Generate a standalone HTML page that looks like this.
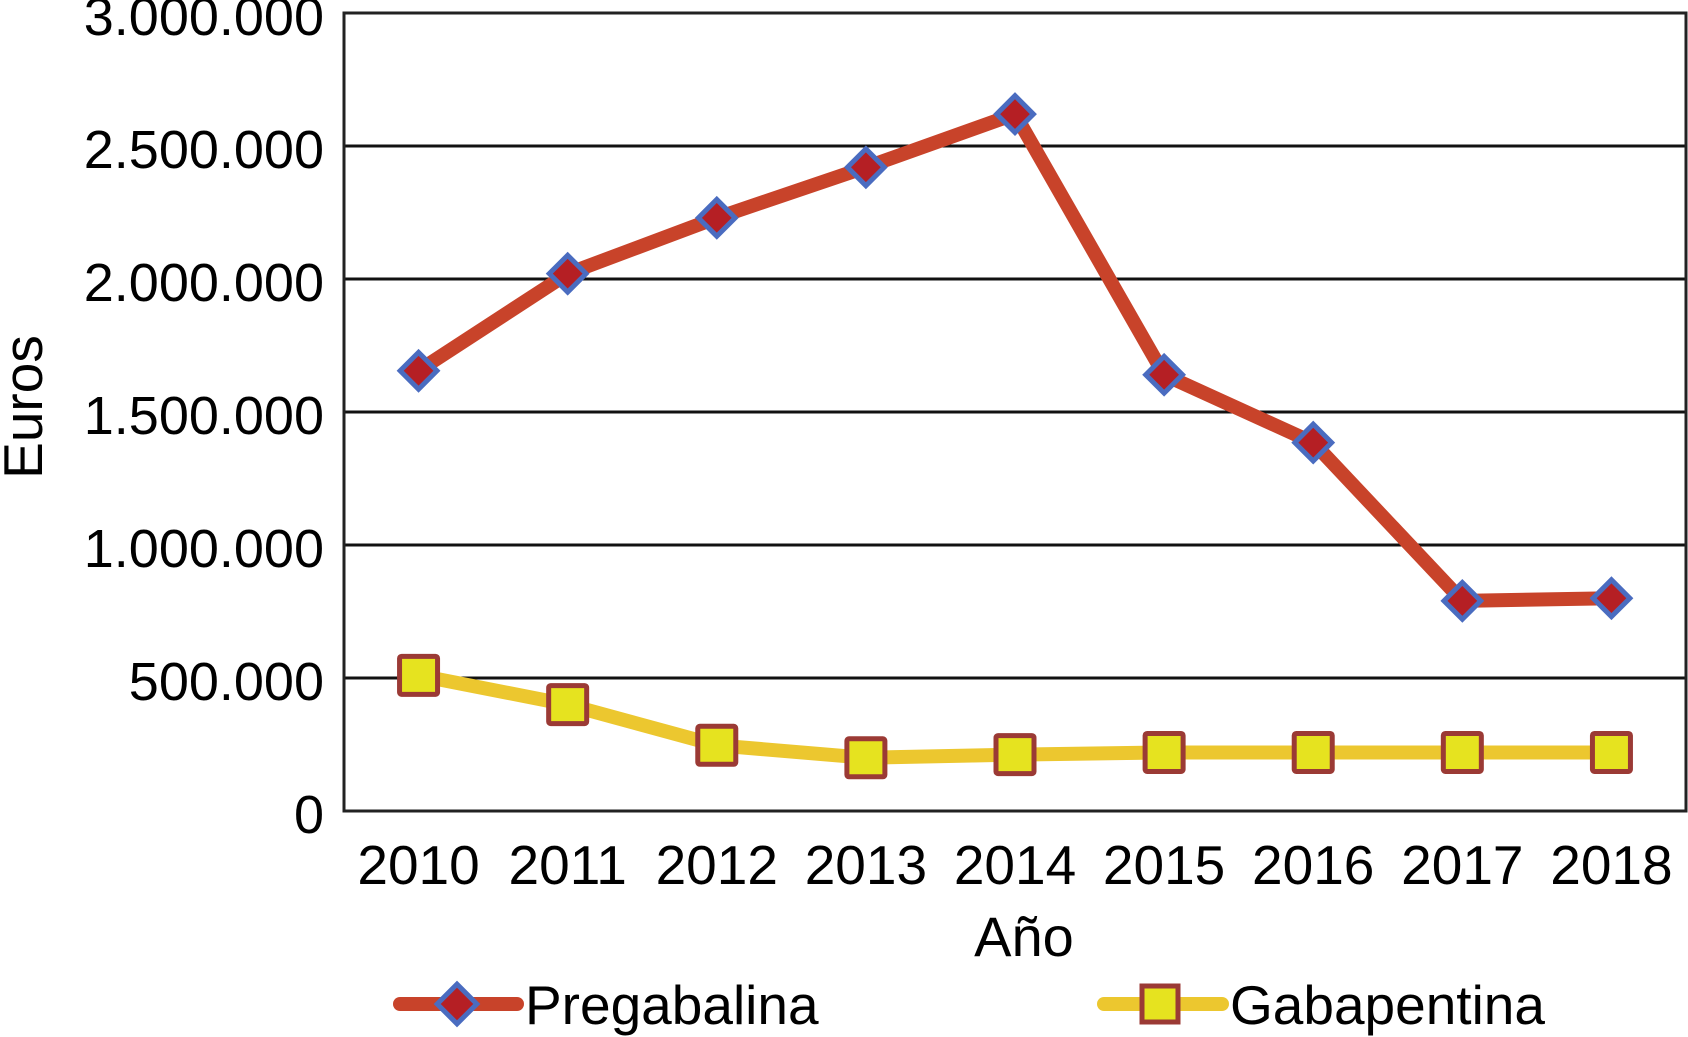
<!DOCTYPE html>
<html><head><meta charset="utf-8"><style>
html,body{margin:0;padding:0;background:#fff;}
svg{display:block;font-family:"Liberation Sans",Arial,sans-serif;}
</style></head><body>
<svg id="chart" width="1688" height="1037" viewBox="0 0 1688 1037">
<g id="grid"></g>
<g id="yticks"></g>
<g id="xticks"></g>
<g id="series"></g>
<rect x="344" y="13" width="1342" height="798" fill="none" stroke="#222" stroke-width="3"/>
<text x="1024" y="956" font-size="56" text-anchor="middle">Año</text>
<text transform="translate(42,407) rotate(-90)" font-size="55" text-anchor="middle">Euros</text>
<g>
<g>
<line x1="400" y1="1004" x2="517" y2="1004" stroke="#c8432a" stroke-width="14" stroke-linecap="round"/>
<rect x="443" y="990" width="28" height="28" fill="#b51f24" stroke="#4a6cc0" stroke-width="5" transform="rotate(45 457 1004)"/>
<text x="525" y="1024" font-size="55">Pregabalina</text>
</g>
<g>
<line x1="1104" y1="1004" x2="1222" y2="1004" stroke="#ecc72f" stroke-width="14" stroke-linecap="round"/>
<rect x="1142" y="986" width="36" height="36" fill="#e6e31f" stroke="#9b3a35" stroke-width="5"/>
<text x="1230" y="1024" font-size="55">Gabapentina</text>
</g>
</g>
</svg>
<script>
const categories = ["2010","2011","2012","2013","2014","2015","2016","2017","2018"];
const pregabalina = [1655000,2020000,2230000,2420000,2620000,1640000,1385000,790000,800000];
const gabapentina = [510000,400000,247000,200000,212000,220000,220000,220000,220000];
const yTicks = [0,500000,1000000,1500000,2000000,2500000,3000000];
const yTickLabels = ["0","500.000","1.000.000","1.500.000","2.000.000","2.500.000","3.000.000"];
const NS="http://www.w3.org/2000/svg";
const L=344,R=1686,T=13,B=811,YMAX=3000000;
const bw=(R-L)/categories.length;
const xs=i=>L+bw*(i+0.5);
const ys=v=>B-(v/YMAX)*(B-T);
function mk(tag,attrs,parent){const e=document.createElementNS(NS,tag);for(const k in attrs)e.setAttribute(k,attrs[k]);parent.appendChild(e);return e;}
const grid=document.getElementById('grid'),yt=document.getElementById('yticks'),xt=document.getElementById('xticks'),ser=document.getElementById('series');
yTicks.forEach((v,i)=>{
  const y=ys(v);
  const gl=mk('line',{x1:L,x2:R,y1:y,y2:y,stroke:'#111','stroke-width':3},grid);
  
  
  const t=mk('text',{x:324,y:y+22,'font-size':54,'text-anchor':'end'},yt);
  t.textContent=yTickLabels[i];
  
  
});
categories.forEach((c,i)=>{
  const t=mk('text',{x:xs(i),y:884,'font-size':55,'text-anchor':'middle'},xt);
  t.textContent=c;
  
  
});
function line(vals,color,name){
  const p=mk('polyline',{points:vals.map((v,i)=>xs(i)+','+ys(v)).join(' '),fill:'none',stroke:color,'stroke-width':14,'stroke-linejoin':'round'},ser);
  
  
}
line(pregabalina,'#c8432a','pregabalina');
line(gabapentina,'#ecc72f','gabapentina');
pregabalina.forEach((v,i)=>{
  const x=xs(i),y=ys(v);
  const r=mk('rect',{x:x-13,y:y-13,width:26,height:26,fill:'#b51f24',stroke:'#4a6cc0','stroke-width':5,transform:`rotate(45 ${x} ${y})`},ser);
  
  
});
gabapentina.forEach((v,i)=>{
  const x=xs(i),y=ys(v);
  const r=mk('rect',{x:x-19,y:y-19,width:38,height:38,fill:'#e6e31f',stroke:'#9b3a35','stroke-width':5,rx:2},ser);
  
  
});
</script>
</body></html>
